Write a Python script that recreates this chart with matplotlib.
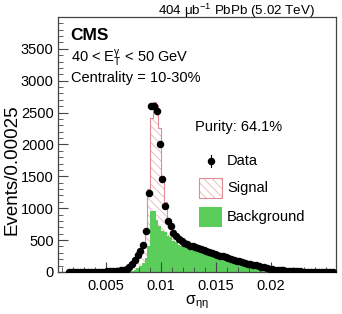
import numpy as np
import matplotlib
matplotlib.use('Agg')
import matplotlib.pyplot as plt
from matplotlib.patches import Rectangle
from matplotlib.lines import Line2D

plt.rcParams['font.family'] = ['Liberation Sans', 'DejaVu Sans']
plt.rcParams['mathtext.fontset'] = 'custom'
plt.rcParams['mathtext.rm'] = 'Liberation Sans'
plt.rcParams['mathtext.it'] = 'Liberation Sans'
plt.rcParams['mathtext.bf'] = 'Liberation Sans:bold'
plt.rcParams['mathtext.default'] = 'regular'
plt.rcParams['hatch.linewidth'] = 0.6

# ---------------- DATA ----------------
bin_lo = 0.0015
bin_w = 0.00025

data = [3, 2, 3, 2, 3, 3, 2, 3, 4, 3, 4, 5, 5, 6, 7, 9,
        11, 14, 18, 24, 32, 42, 84, 130, 189, 268, 330, 420, 636, 1241,
        2600, 2610, 2520, 2000, 1460, 1040, 800, 715, 610, 557, 515, 478,
        455, 440, 412, 400, 388, 368, 360, 342, 332, 315, 302, 283, 270, 252,
        246, 232, 222, 203, 192, 176, 166, 150, 141, 126, 119, 106, 101, 90,
        83, 70, 63, 52, 47, 38, 34, 26, 23, 17, 15, 11, 10, 8, 7, 6,
        5, 5, 4, 4, 4, 3, 3, 3, 3, 2, 2]

background = [0] * 20 + [
    3, 6, 12, 22, 38, 60, 90, 140, 220, 400,
    950, 950, 820, 715, 640, 630, 560, 550, 480, 470, 430, 410,
    395, 380, 370, 355, 345, 335, 325, 315, 300, 290, 280, 268, 255, 243,
    232, 222, 210, 198, 186, 175, 163, 150, 138, 125, 115, 105, 97, 88,
    78, 70, 60, 52, 45, 38, 32, 26, 21, 17, 14, 11, 9, 7, 6, 5,
    4, 4, 3, 3, 3, 2, 2, 2, 2, 2, 1]

signal = [0] * 20 + [
    15, 30, 65, 100, 140, 185, 225, 270, 430, 900,
    1470, 1720, 1800, 1550, 860, 470, 290, 210, 180, 120, 100, 80,
    65, 58, 50, 48, 42, 38, 35, 30, 28, 25, 22, 20, 18, 16,
    14, 12, 10, 9, 8, 7, 6, 5, 4, 4, 3, 3, 2, 2,
    1, 1, 1, 1, 1, 1, 1, 0, 0, 0, 0, 0, 0, 0, 0, 0,
    0, 0, 0, 0, 0, 0, 0, 0, 0, 0, 0]

data = np.array(data, dtype=float)
background = np.array(background, dtype=float)
signal = np.array(signal, dtype=float)
edges = bin_lo + bin_w * np.arange(len(data) + 1)
centers = 0.5 * (edges[:-1] + edges[1:])
total = background + signal

green = '#5acd5a'
red_line = '#e08a94'
red_hatch = '#e9b4b4'
frame = '#444444'

# ---------------- PLOT ----------------
fig = plt.figure(figsize=(3.42, 3.14), dpi=100)
ax = fig.add_axes([0.169, 0.134, 0.813, 0.812])

ax.stairs(background, edges, fill=True, color=green, lw=0)
ax.stairs(total, edges, baseline=background, fill=True, facecolor='white',
          edgecolor=red_hatch, hatch='\\\\\\\\', lw=0)
ax.stairs(total, edges, color=red_line, lw=0.8)
ax.plot(centers, data, 'o', color='black', ms=4.4, zorder=5)

ax.set_xlim(0.00061, 0.0259)
ax.set_ylim(0, 4000)
ax.set_xticks([0.005, 0.01, 0.015, 0.02])
ax.set_xticklabels(['0.005', '0.01', '0.015', '0.02'])
ax.set_yticks(np.arange(0, 3501, 500))
ax.set_xticks(np.arange(0.001, 0.0259, 0.001), minor=True)
ax.set_yticks(np.arange(0, 4000, 100), minor=True)
ax.tick_params(which='both', direction='in', color=frame, labelsize=10.5,
               top=False, right=False)
ax.tick_params(which='major', length=7, width=0.8)
ax.tick_params(which='minor', length=3.5, width=0.6)
ax.tick_params(axis='x', pad=5)
ax.tick_params(axis='y', pad=3)
for s in ax.spines.values():
    s.set_color(frame)
    s.set_linewidth(0.9)

ax.set_xlabel(r'$\sigma_{\eta\eta}$', fontsize=11.5)
ax.xaxis.set_label_coords(0.5, -0.085)
fig.text(0.035, 0.46, 'Events/0.00025', rotation=90, fontsize=13.5,
         ha='center', va='center')

fig.text(0.921, 0.965, r'404 $\mu$b$^{-1}$ PbPb (5.02 TeV)', fontsize=9.6,
         ha='right', va='center')

t = ax.transAxes
ax.text(0.044, 0.929, 'CMS', fontsize=12.5, fontweight='bold', transform=t,
        va='center')
ax.text(0.048, 0.839, r'40 < E$_T^{\gamma}$ < 50 GeV', fontsize=10.5,
        transform=t, va='center')
ax.text(0.048, 0.761, 'Centrality = 10-30%', fontsize=10.5, transform=t,
        va='center')
ax.text(0.494, 0.569, 'Purity: 64.1%', fontsize=10.5, transform=t,
        va='center')

# legend
ax.add_line(Line2D([0.552, 0.552], [0.41, 0.46], color='black', lw=0.8,
                   transform=t))
ax.plot([0.552], [0.435], 'o', color='black', ms=4.4, transform=t)
ax.add_patch(Rectangle((0.509, 0.289), 0.081, 0.078, facecolor='white',
                       edgecolor=red_hatch, hatch='\\\\\\\\', lw=0,
                       transform=t))
ax.add_patch(Rectangle((0.509, 0.289), 0.081, 0.078, fill=False,
                       edgecolor=red_line, lw=0.8, transform=t))
ax.add_patch(Rectangle((0.509, 0.175), 0.081, 0.079, facecolor=green,
                       lw=0, transform=t))
ax.text(0.608, 0.435, 'Data', fontsize=10.5, transform=t, va='center')
ax.text(0.608, 0.329, 'Signal', fontsize=10.5, transform=t, va='center')
ax.text(0.608, 0.216, 'Background', fontsize=10.5, transform=t, va='center')

fig.savefig('out.png', dpi=100)
